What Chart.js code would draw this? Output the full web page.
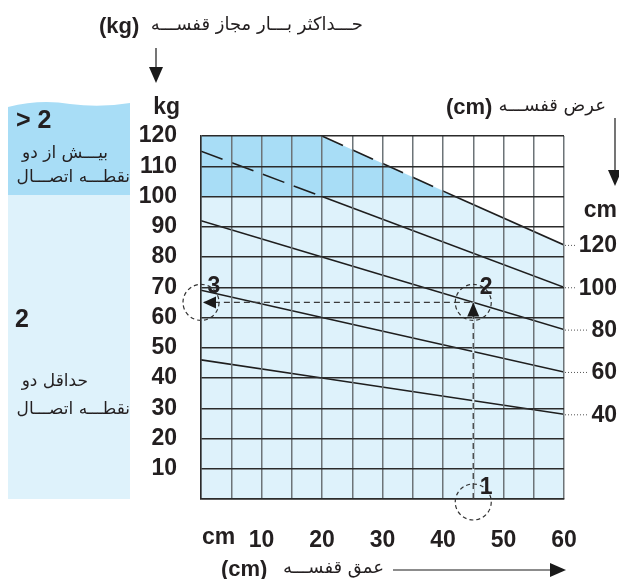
<!DOCTYPE html>
<html>
<head>
<meta charset="utf-8">
<script src="https://cdn.jsdelivr.net/npm/chart.js@4.4.1/dist/chart.umd.min.js"></script>
<style>
  html, body { margin: 0; padding: 0; background: #fff; }
  canvas { display: block; }
</style>
</head>
<body>
<canvas id="shelfChart" width="619" height="579"></canvas>
<script>
// shelf depth (cm) -> max load (kg), one line per shelf width
const depthCm = [0, 20, 60];
const load40 = [46, 40, 28];
const load60 = [69, 60, 42];
const load80 = [92, 80, 56];
const load100 = [115, 100, 70];
const depthCm120 = [20, 42, 60];
const load120 = [120, 100, 84];
const widthLabels = ['40', '60', '80', '100', '120'];

// shaded zones (under the 120 line, and the >2 supports zone above 100 kg)
const lightZoneX = [0, 0, 20, 60, 60];
const lightZoneY = [0, 120, 120, 84, 0];
const darkZoneX = [0, 0, 20, 42];
const darkZoneY = [100, 120, 120, 100];

// worked example: depth 45 cm, width 80 cm -> 65 kg
const guideDepth = [45, 45, 0];
const guideLoad = [0, 65, 65];

const NUM = "'Liberation Sans', Arial, sans-serif";
const FA = "'DejaVu Sans', 'Noto Sans', sans-serif";
const INK = '#231f20';
const LIGHT = '#def2fb';
const DARK = '#a8ddf6';

function pts(xs, ys) {
  return xs.map((x, i) => ({ x: x, y: ys[i] }));
}

function lineSet(xs, ys) {
  return {
    data: pts(xs, ys),
    showLine: true,
    borderColor: '#1e1e1e',
    borderWidth: 1.6,
    pointRadius: 0,
    fill: false,
    order: 2,
    segment: {
      borderDash: ctx => (ctx.p0.parsed.y > 100.5 || ctx.p1.parsed.y > 100.5) ? [23, 10] : undefined
    }
  };
}

function text(ctx, s, x, y, font, align, rtl) {
  ctx.save();
  ctx.font = font;
  ctx.fillStyle = INK;
  ctx.textAlign = align;
  ctx.textBaseline = 'middle';
  ctx.direction = rtl ? 'rtl' : 'ltr';
  ctx.fillText(s, x, y);
  ctx.restore();
}

function arrow(ctx, x1, y1, x2, y2) {
  const ang = Math.atan2(y2 - y1, x2 - x1);
  const head = 16, half = 7;
  const bx = x2 - head * Math.cos(ang), by = y2 - head * Math.sin(ang);
  ctx.save();
  ctx.strokeStyle = '#1a1a1a';
  ctx.fillStyle = '#1a1a1a';
  ctx.lineWidth = 1.2;
  ctx.beginPath();
  ctx.moveTo(x1, y1);
  ctx.lineTo(bx, by);
  ctx.stroke();
  ctx.beginPath();
  ctx.moveTo(x2, y2);
  ctx.lineTo(bx - half * Math.sin(ang), by + half * Math.cos(ang));
  ctx.lineTo(bx + half * Math.sin(ang), by - half * Math.cos(ang));
  ctx.closePath();
  ctx.fill();
  ctx.restore();
}

const decorPlugin = {
  id: 'decor',
  beforeDraw(chart) {
    const ctx = chart.ctx;
    ctx.save();
    // left legend panel
    ctx.fillStyle = LIGHT;
    ctx.fillRect(8, 195, 122, 304);
    ctx.fillStyle = DARK;
    ctx.beginPath();
    ctx.moveTo(8, 107);
    ctx.quadraticCurveTo(40, 99, 70, 104);
    ctx.quadraticCurveTo(100, 108, 130, 103);
    ctx.lineTo(130, 195);
    ctx.lineTo(8, 195);
    ctx.closePath();
    ctx.fill();
    ctx.restore();
  },
  afterDraw(chart) {
    const ctx = chart.ctx;
    const xs = chart.scales.x, ys = chart.scales.y;
    const area = chart.chartArea;
    const bold = 'bold 23px ' + NUM;

    // top title + arrow
    text(ctx, '(kg)', 99, 27, 'bold 22px ' + NUM, 'left');
    text(ctx, 'حـــداکثر بـــار مجاز قفســـه', 363, 25, '18px ' + FA, 'right', true);
    arrow(ctx, 156, 48, 156, 83);
    text(ctx, 'kg', 180, 108, bold, 'right');

    // right header + arrow
    text(ctx, '(cm)', 446, 108, 'bold 22px ' + NUM, 'left');
    text(ctx, 'عرض قفســـه', 606, 106, '18px ' + FA, 'right', true);
    arrow(ctx, 615, 118, 615, 186);
    text(ctx, 'cm', 617, 211, bold, 'right');

    // width labels at the right end of every line
    const ends = [load40, load60, load80, load100, load120].map(a => a[a.length - 1]);
    ends.forEach((v, i) => {
      const y = ys.getPixelForValue(v);
      ctx.save();
      ctx.font = bold;
      const w = ctx.measureText(widthLabels[i]).width;
      ctx.restore();
      const tx = 617 - w;
      ctx.save();
      ctx.strokeStyle = '#555';
      ctx.lineWidth = 1;
      ctx.setLineDash([1, 2]);
      ctx.beginPath();
      ctx.moveTo(area.right + 1, y + 0.5);
      ctx.lineTo(tx - 3, y + 0.5);
      ctx.stroke();
      ctx.restore();
      text(ctx, widthLabels[i], 617, y + 1, bold, 'right');
    });

    // x axis unit + bottom title + arrow
    text(ctx, 'cm', 202, 538, bold, 'left');
    text(ctx, '(cm)', 221, 570, 'bold 22px ' + NUM, 'left');
    text(ctx, 'عمق قفســـه', 384, 568, '18px ' + FA, 'right', true);
    arrow(ctx, 393, 570, 566, 570);

    // left panel texts
    text(ctx, '> 2', 16, 121, 'bold 25px ' + NUM, 'left');
    text(ctx, 'بیـــش از دو', 108, 154, '17px ' + FA, 'right', true);
    text(ctx, 'نقطـــه اتصـــال', 130, 178, '17px ' + FA, 'right', true);
    text(ctx, '2', 15, 320, 'bold 25px ' + NUM, 'left');
    text(ctx, 'حداقل دو', 88, 382, '17px ' + FA, 'right', true);
    text(ctx, 'نقطـــه اتصـــال', 130, 410, '17px ' + FA, 'right', true);

    // worked example: dashed path over the grid, arrows, circles
    const gx = xs.getPixelForValue(guideDepth[0]);
    const gy = ys.getPixelForValue(guideLoad[1]);
    const x0 = xs.getPixelForValue(guideDepth[2]);
    const y0 = ys.getPixelForValue(guideLoad[0]);
    ctx.save();
    ctx.strokeStyle = LIGHT;
    ctx.lineWidth = 2;
    ctx.beginPath();
    ctx.moveTo(gx, y0 - 1);
    ctx.lineTo(gx, gy);
    ctx.stroke();
    ctx.strokeStyle = '#3a3a3a';
    ctx.lineWidth = 1.3;
    ctx.setLineDash([6, 4]);
    ctx.beginPath();
    ctx.moveTo(gx, y0);
    ctx.lineTo(gx, gy);
    ctx.lineTo(x0, gy);
    ctx.stroke();
    ctx.setLineDash([]);
    ctx.fillStyle = '#1a1a1a';
    ctx.beginPath();
    ctx.moveTo(gx, gy);
    ctx.lineTo(gx - 6, gy + 14);
    ctx.lineTo(gx + 6, gy + 14);
    ctx.closePath();
    ctx.fill();
    ctx.beginPath();
    ctx.moveTo(x0 + 2, gy);
    ctx.lineTo(x0 + 15, gy - 6);
    ctx.lineTo(x0 + 15, gy + 6);
    ctx.closePath();
    ctx.fill();
    ctx.strokeStyle = '#333';
    ctx.lineWidth = 1.2;
    ctx.setLineDash([4, 3]);
    [[gx, gy], [x0, gy], [gx, y0 + 3]].forEach(c => {
      ctx.beginPath();
      ctx.arc(c[0], c[1], 18, 0, Math.PI * 2);
      ctx.stroke();
    });
    ctx.restore();
    text(ctx, '2', gx + 13, gy - 15, bold, 'center');
    text(ctx, '3', x0 + 13, gy - 16, bold, 'center');
    text(ctx, '1', gx + 13, y0 - 11, bold, 'center');
  }
};

new Chart(document.getElementById('shelfChart'), {
  type: 'scatter',
  data: {
    datasets: [
      {
        data: pts(lightZoneX, lightZoneY),
        showLine: true, borderWidth: 0, pointRadius: 0,
        backgroundColor: LIGHT, fill: 'shape', order: 10
      },
      {
        data: pts(darkZoneX, darkZoneY),
        showLine: true, borderWidth: 0, pointRadius: 0,
        backgroundColor: DARK, fill: 'shape', order: 9
      },
      lineSet(depthCm, load40),
      lineSet(depthCm, load60),
      lineSet(depthCm, load80),
      lineSet(depthCm, load100),
      lineSet(depthCm120, load120)
    ]
  },
  options: {
    responsive: false,
    devicePixelRatio: 1,
    animation: false,
    layout: { padding: { left: 0, right: 55, top: 136, bottom: 0 } },
    plugins: {
      legend: { display: false },
      tooltip: { enabled: false }
    },
    scales: {
      x: {
        type: 'linear', min: 0, max: 60,
        afterFit: s => { s.height = 80; },
        grid: { color: '#6d7478', lineWidth: 1.5, drawTicks: false, z: 1 },
        border: { color: '#2b2b2b', width: 1.5, z: 1 },
        ticks: {
          stepSize: 5, autoSkip: false, maxRotation: 0, padding: 28,
          color: INK, font: { family: NUM, size: 23, weight: 'bold' },
          callback: v => (v > 0 && v % 10 === 0) ? String(v) : ''
        }
      },
      y: {
        type: 'linear', min: 0, max: 120,
        afterFit: s => { s.width = 201; },
        grid: { color: '#2b2b2b', lineWidth: 1.5, drawTicks: false, z: 1 },
        border: { color: '#2b2b2b', width: 1.5, z: 1 },
        ticks: {
          stepSize: 10, autoSkip: false, padding: 24,
          color: INK, font: { family: NUM, size: 23, weight: 'bold' },
          callback: v => v === 0 ? '' : String(v)
        }
      }
    }
  },
  plugins: [decorPlugin]
});
</script>
</body>
</html>
